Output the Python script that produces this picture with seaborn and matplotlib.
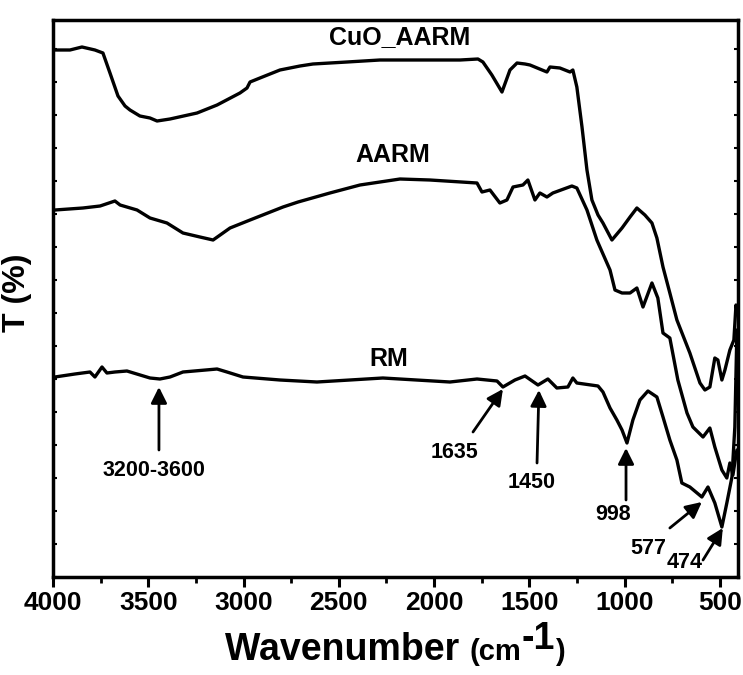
import numpy as np
import pandas as pd
import matplotlib
matplotlib.use("Agg")
import matplotlib.pyplot as plt
from matplotlib.ticker import MultipleLocator
from matplotlib.transforms import IdentityTransform
import seaborn as sns

# ---------------- data (wavenumber cm-1, transmittance a.u.) ----------------
cuo_wn = [3990, 3911, 3848, 3780, 3738, 3701, 3659, 3622, 3596, 3544, 3491, 3454, 3386,
          3244, 3139, 3019, 2982, 2966, 2914, 2809, 2704, 2636, 2457, 2284, 2074,
          1864, 1770, 1744, 1697, 1644, 1602, 1565, 1523, 1497, 1408, 1392, 1340,
          1287, 1272, 1251, 1224, 1198, 1172, 1140, 1114, 1067, 1014, 972, 936,
          894, 857, 831, 799, 763, 726, 658, 605, 579, 553, 527, 511, 490, 474,
          448, 427, 416, 411]
cuo_t = [527, 527, 530, 527, 524, 504, 481, 471, 467, 461, 459, 456, 458,
         464, 472, 484, 489, 495, 499, 507, 511, 513, 515, 517, 517,
         517, 518, 515, 502, 485, 507, 514, 513, 512, 505, 510, 509,
         505, 507, 490, 450, 407, 377, 362, 354, 337, 349, 360, 369,
         362, 354, 339, 310, 284, 257, 224, 194, 187, 190, 219, 217, 197, 207,
         227, 237, 272, 267]

aarm_wn = [3990, 3843, 3753, 3675, 3648, 3559, 3491, 3402, 3318, 3229, 3160, 3071,
           2966, 2793, 2714, 2547, 2389, 2179, 2022, 1775, 1749, 1707, 1655, 1618,
           1586, 1534, 1508, 1471, 1445, 1408, 1377, 1277, 1251, 1198, 1146, 1130,
           1077, 1051, 1014, 972, 936, 904, 857, 826, 799, 763, 721, 673, 642, 589,
           553, 527, 490, 464, 448, 432, 416, 411]
aarm_t = [367, 369, 371, 376, 372, 367, 359, 354, 344, 340, 337, 349,
          357, 370, 375, 384, 392, 398, 397, 394, 385, 387, 374, 377,
          390, 392, 397, 377, 384, 380, 384, 391, 389, 367, 337, 330,
          307, 287, 284, 284, 289, 270, 294, 279, 244, 239, 197, 164, 150, 140,
          149, 130, 107, 99, 114, 102, 122, 127]

rm_wn = [3990, 3885, 3806, 3780, 3743, 3717, 3675, 3612, 3491, 3439, 3386, 3318,
         3139, 3087, 3003, 2809, 2615, 2269, 1917, 1775, 1670, 1639, 1576, 1523,
         1455, 1403, 1356, 1298, 1272, 1251, 1140, 1114, 1077, 1041, 1014, 988,
         957, 920, 878, 831, 799, 763, 726, 700, 658, 595, 563, 527, 490, 464,
         437, 422, 411]
rm_t = [200, 203, 205, 200, 210, 204, 205, 206, 199, 198, 200, 205,
        208, 205, 200, 197, 195, 199, 195, 198, 196, 190, 197, 201,
        192, 198, 189, 190, 199, 194, 191, 185, 169, 157, 147, 134,
        157, 177, 186, 180, 160, 137, 117, 94, 90, 80, 90, 74, 50, 74,
        100, 150, 247]

series_names = ["CuO_AARM", "AARM", "RM"]
series_label_pos = [(2179, 540), (2216, 422), (2237, 218)]

peak_labels = ["3200-3600", "1635", "1450", "998", "577", "474"]
arrow_tips = [(3444, 190), (1639, 188), (1450, 187), (993, 129), (595, 75), (485, 49)]
arrow_tails = [(3444, 127), (1796, 145), (1460, 114), (993, 77), (763, 49), (589, 17)]
peak_label_pos = [(3470, 107), (1891, 124), (1487, 95), (1062, 62), (878, 29), (684, 15)]

xticks = [4000, 3500, 3000, 2500, 2000, 1500, 1000, 500]

# ---------------- plotting ----------------
sns.set_theme(style="ticks")
plt.rcParams["font.family"] = ["Liberation Sans", "DejaVu Sans"]
plt.rcParams["font.weight"] = "bold"
for key in ["text.color", "axes.labelcolor", "xtick.color", "ytick.color",
            "axes.edgecolor"]:
    plt.rcParams[key] = "black"

W, H = 743, 675
fig = plt.figure(figsize=(W / 100, H / 100), dpi=100)
ax = fig.add_axes([53 / W, (H - 577) / H, (737.5 - 53) / W, (577 - 20) / H])

frames = []
for name, wn, t in zip(series_names, [cuo_wn, aarm_wn, rm_wn], [cuo_t, aarm_t, rm_t]):
    frames.append(pd.DataFrame({"wn": wn, "T": t, "sample": name}))
df = pd.concat(frames, ignore_index=True)

for name in series_names:
    sub = df[df["sample"] == name]
    sns.lineplot(data=sub, x="wn", y="T", ax=ax, color="black", lw=2.4,
                 sort=False, estimator=None, legend=False)

ax.set_xlim(4000, 408)
ax.set_ylim(0, 557)
ax.set_xticks(xticks)
ax.set_xticklabels([str(v) for v in xticks])
ax.xaxis.set_minor_locator(MultipleLocator(250))
ax.yaxis.set_major_locator(MultipleLocator(33))
ax.set_yticklabels([])
ax.set_xlabel("")
ax.set_ylabel("")

for sp in ax.spines.values():
    sp.set_linewidth(2.5)
    sp.set_visible(True)
    sp.set_color("black")

ax.tick_params(axis="x", which="major", direction="out", length=7, width=2.2,
               labelsize=19, pad=3, top=False, colors="black")
ax.tick_params(axis="x", which="minor", direction="out", length=4, width=2.0, top=False)
ax.tick_params(axis="y", which="major", direction="in", length=3, width=1.5,
               left=True, right=True, labelleft=False)
for lab in ax.get_xticklabels():
    lab.set_fontweight("bold")

for name, (x, y) in zip(series_names, series_label_pos):
    ax.text(x, y, name, ha="center", va="center", fontsize=18, fontweight="bold",
            color="black")

for lab, tip, tail, pos in zip(peak_labels, arrow_tips, arrow_tails, peak_label_pos):
    ax.annotate("", xy=tip, xytext=tail,
                arrowprops=dict(arrowstyle="-|>", color="black", lw=2.0,
                                mutation_scale=24, shrinkA=0, shrinkB=0))
    ax.text(pos[0], pos[1], lab, ha="center", va="center", fontsize=15.5,
            fontweight="bold", color="black")

# y label
fig.text(17 / W, 382 / H, "T (%)", rotation=90, ha="center", va="center",
         fontsize=23, fontweight="bold", color="black")

# x label built from pieces
renderer = fig.canvas.get_renderer()
pieces = [("Wavenumber ", 27, 0), ("(cm", 21, 0), ("-1", 27, 11), (")", 21, 0)]
texts = []
for s, fs, dy in pieces:
    t = fig.text(0, 0, s, fontsize=fs, fontweight="bold", ha="left", va="baseline",
                 transform=IdentityTransform(), color="black")
    texts.append((t, dy))
widths = [t.get_window_extent(renderer).width for t, _ in texts]
total = sum(widths)
x0 = 395 - total / 2
base = H - 660
for (t, dy), w in zip(texts, widths):
    t.set_position((x0, base + dy))
    x0 += w

fig.savefig("out.png", dpi=100)
